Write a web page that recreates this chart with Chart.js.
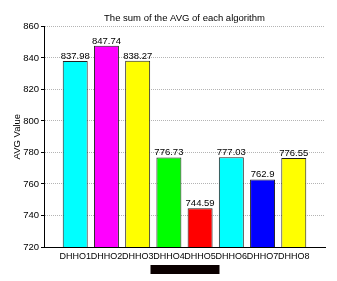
<!DOCTYPE html>
<html>
<head>
<meta charset="utf-8">
<script src="https://cdn.jsdelivr.net/npm/chart.js@4"></script>
<style>
  html, body { margin: 0; padding: 0; background: #fff; }
  #wrap { width: 337px; height: 281px; }
</style>
</head>
<body>
<div id="wrap"><canvas id="myChart" width="337" height="281"></canvas></div>
<script>
'use strict';
let algoNames = ['DHHO1', 'DHHO2', 'DHHO3', 'DHHO4', 'DHHO5', 'DHHO6', 'DHHO7', 'DHHO8'];
let avgSums = [837.98, 847.74, 838.27, 776.73, 744.59, 777.03, 762.9, 776.55];
let avgLabels = ['837.98', '847.74', '838.27', '776.73', '744.59', '777.03', '762.9', '776.55'];
let barColors = ['#00ffff', '#ff00ff', '#ffff00', '#00ff00', '#ff0000', '#00ffff', '#0000ff', '#ffff00'];
let yTicks = [720, 740, 760, 780, 800, 820, 840, 860];

let fontFam = '"Liberation Sans", Arial, sans-serif';

// points for the bars, x is the category index
let points = [];
for (let i = 0; i < avgSums.length; i++) {
    points.push({ x: i, y: avgSums[i] });
}

// value text above each bar
let valueLabels = {
    id: 'valueLabels',
    afterDatasetsDraw(chart) {
        let ctx = chart.ctx;
        let meta = chart.getDatasetMeta(0);
        ctx.save();
        ctx.font = '9.5px ' + fontFam;
        ctx.fillStyle = '#000';
        ctx.textAlign = 'center';
        ctx.textBaseline = 'bottom';
        meta.data.forEach(function (bar, i) {
            ctx.fillText(avgLabels[i], bar.x, bar.y);
        });
        ctx.restore();
    }
};

// blacked out x axis title
let hiddenTitle = {
    id: 'hiddenTitle',
    afterDraw(chart) {
        let ctx = chart.ctx;
        let area = chart.chartArea;
        let cx = (area.left + area.right) / 2;
        ctx.save();
        ctx.fillStyle = '#0a0000';
        ctx.fillRect(cx - 34, area.bottom + 18, 69, 9);
        ctx.restore();
    }
};

let chartEl = document.getElementById('myChart').getContext('2d');
let myChart = new Chart(chartEl, {
    type: 'bar',
    data: {
        datasets: [{
            data: points,
            backgroundColor: barColors,
            borderColor: '#222',
            borderWidth: 1,
            borderSkipped: 'bottom',
            categoryPercentage: 1,
            barPercentage: 0.8
        }]
    },
    options: {
        responsive: false,
        animation: false,
        layout: { padding: { left: 0, right: 12, top: 0, bottom: 0 } },
        plugins: {
            legend: { display: false },
            tooltip: { enabled: false },
            title: {
                display: true,
                fullSize: false,
                text: 'The sum of the AVG of each algorithm',
                color: '#000',
                font: { family: fontFam, size: 9.5, weight: 'normal' },
                padding: { top: 13, bottom: 2 }
            }
        },
        scales: {
            x: {
                type: 'linear',
                min: -1,
                max: 8,
                offset: false,
                grid: { display: true, drawOnChartArea: false, drawTicks: false },
                border: { display: true, color: '#000', width: 1 },
                afterBuildTicks(scale) {
                    scale.ticks = algoNames.map(function (n, i) { return { value: i }; });
                },
                afterFit(scale) { scale.height = 34; },
                ticks: {
                    autoSkip: false,
                    maxRotation: 0,
                    padding: 4,
                    color: '#000',
                    font: { family: fontFam, size: 9 },
                    callback: function (v) { return algoNames[v]; }
                }
            },
            y: {
                min: 720,
                max: 860,
                afterBuildTicks(scale) {
                    scale.ticks = yTicks.map(function (v) { return { value: v }; });
                },
                afterFit(scale) { scale.width = 44; },
                grid: {
                    color: '#b4b4b4',
                    lineWidth: 1,
                    tickLength: 3,
                    tickColor: '#000',
                    tickBorderDash: []
                },
                border: { display: true, color: '#000', width: 1, dash: [1, 1] },
                title: {
                    display: true,
                    text: 'AVG Value',
                    color: '#000',
                    font: { family: fontFam, size: 9.5 },
                    padding: { top: 12, bottom: 0 }
                },
                ticks: {
                    padding: 2,
                    color: '#000',
                    font: { family: fontFam, size: 9.5 }
                }
            }
        }
    },
    plugins: [valueLabels, hiddenTitle]
});
</script>
</body>
</html>
